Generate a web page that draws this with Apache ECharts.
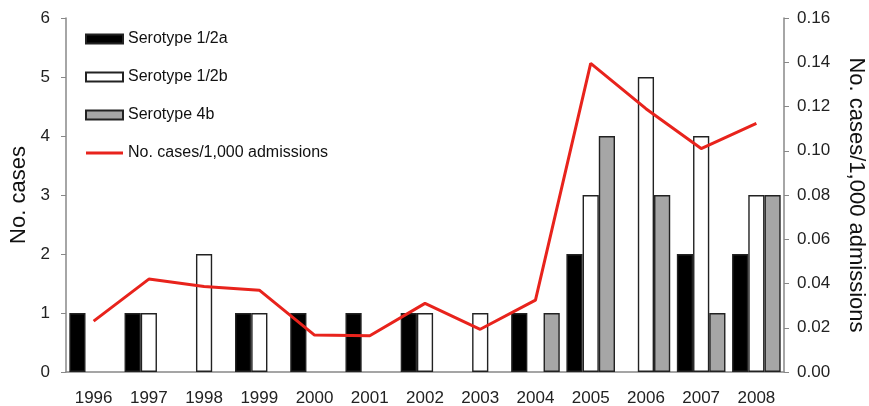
<!DOCTYPE html>
<html>
<head>
<meta charset="utf-8">
<script src="https://cdn.jsdelivr.net/npm/echarts@6/dist/echarts.min.js"></script>
<style>
  html, body { margin: 0; padding: 0; background: #fff; }
  #chart { width: 869px; height: 406px; }
</style>
</head>
<body>
<div id="chart"></div>
<script>
const years = ['1996', '1997', '1998', '1999', '2000', '2001', '2002', '2003', '2004', '2005', '2006', '2007', '2008'];
const sero12a = [1, 1, 0, 1, 1, 1, 1, 0, 1, 2, 0, 2, 2];
const sero12b = [0, 1, 2, 1, 0, 0, 1, 1, 0, 3, 5, 4, 3];
const sero4b = [0, 0, 0, 0, 0, 0, 0, 0, 1, 4, 3, 1, 3];
const ratePer1000 = [0.023, 0.042, 0.0386, 0.037, 0.0167, 0.0164, 0.031, 0.0193, 0.0325, 0.1395, 0.119, 0.101, 0.1124];

const font = 'Liberation Sans, Arial, sans-serif';
const chart = echarts.init(document.getElementById('chart'));

const barBorder = { borderColor: '#222', borderWidth: 1.4 };
// empty bars are not drawn in the original (no outline on the axis)
const noZero = arr => arr.map(v => (v === 0 ? '-' : v));

chart.setOption({
  animation: false,
  textStyle: { fontFamily: font },
  grid: { left: 66, right: 85, top: 18, bottom: 34, outerBoundsMode: 'none', containLabel: false },
  legend: {
    orient: 'vertical', left: 80, top: 26,
    itemWidth: 37, itemHeight: 9, itemGap: 22,
    textStyle: { fontSize: 16, color: '#111', fontFamily: font },
    data: [
      { name: 'Serotype 1/2a', icon: 'rect' },
      { name: 'Serotype 1/2b', icon: 'rect' },
      { name: 'Serotype 4b', icon: 'rect' },
      { name: 'No. cases/1,000 admissions', icon: 'path://M0,0 L37,0 L37,3 L0,3 Z' }
    ]
  },
  xAxis: {
    type: 'category', data: years,
    axisLine: { lineStyle: { color: '#888', width: 1.5 } },
    axisTick: { show: false },
    axisLabel: { fontSize: 17, color: '#222', margin: 18 }
  },
  yAxis: [
    {
      type: 'value', min: 0, max: 6, interval: 1,
      name: 'No. cases', nameLocation: 'middle', nameGap: 33, nameRotate: 90,
      nameTextStyle: { fontSize: 22, color: '#111' },
      axisLine: { show: true, lineStyle: { color: '#888', width: 1.5 } },
      axisTick: { show: true, length: 5, lineStyle: { color: '#888' } },
      axisLabel: { fontSize: 17, color: '#222', margin: 16 },
      splitLine: { show: false }
    },
    {
      type: 'value', min: 0, max: 0.16, interval: 0.02,
      name: 'No. cases/1,000 admissions', nameLocation: 'middle', nameGap: 61, nameRotate: -90,
      nameTextStyle: { fontSize: 22, color: '#111' },
      axisLine: { show: true, lineStyle: { color: '#888', width: 1.5 } },
      axisTick: { show: true, length: 5, lineStyle: { color: '#888' } },
      axisLabel: { fontSize: 17, color: '#222', margin: 13, formatter: v => v.toFixed(2) },
      splitLine: { show: false }
    }
  ],
  series: [
    {
      name: 'Serotype 1/2a', type: 'bar', data: noZero(sero12a),
      barGap: '0%', barCategoryGap: '12%',
      itemStyle: Object.assign({ color: '#000' }, barBorder)
    },
    {
      name: 'Serotype 1/2b', type: 'bar', data: noZero(sero12b),
      itemStyle: Object.assign({ color: '#fff' }, barBorder)
    },
    {
      name: 'Serotype 4b', type: 'bar', data: noZero(sero4b),
      itemStyle: Object.assign({ color: '#a6a6a6' }, barBorder)
    },
    {
      name: 'No. cases/1,000 admissions', type: 'line', yAxisIndex: 1,
      data: ratePer1000, symbol: 'none',
      lineStyle: { color: '#e8231c', width: 3 },
      itemStyle: { color: '#e8231c' }
    }
  ]
});
</script>
</body>
</html>
